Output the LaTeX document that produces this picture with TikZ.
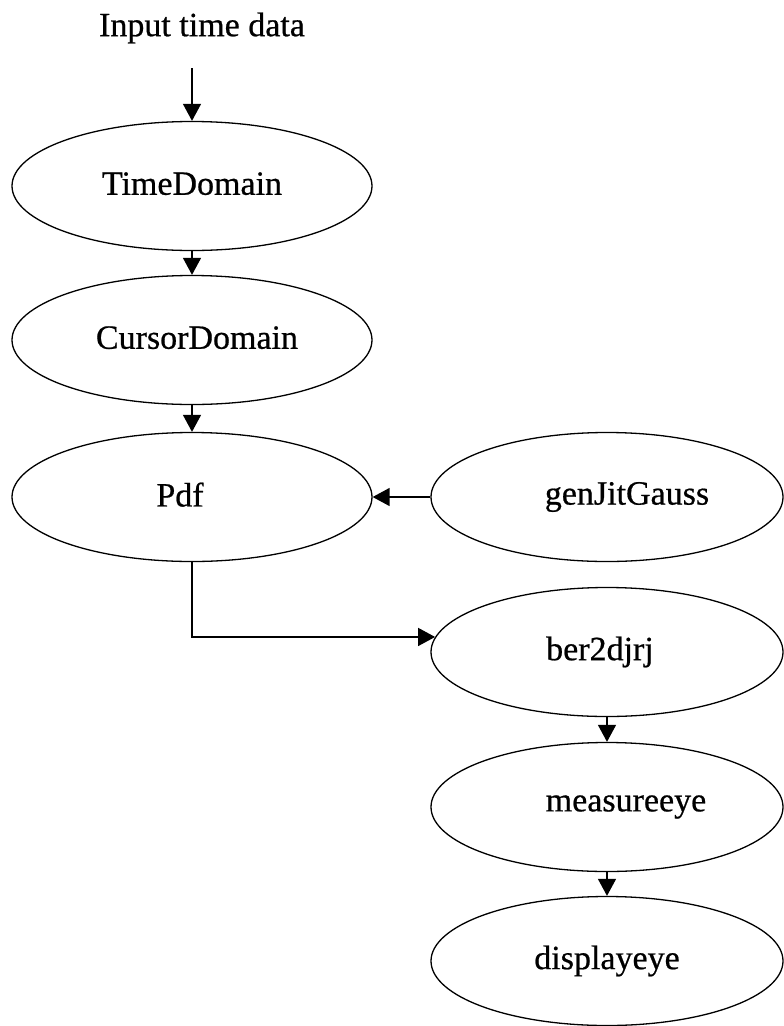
\documentclass[tikz,border=0pt]{standalone}
\usepackage{fontspec}
\setmainfont[FakeBold=0.6]{Liberation Serif}
\usetikzlibrary{shapes.geometric,arrows.meta}
\begin{document}
\begin{tikzpicture}[x=1pt,y=-1pt,
  lbl/.style={font=\fontsize{34}{40}\selectfont},
  box/.style={draw, ellipse, line width=1.3pt, minimum width=360pt, minimum height=129pt, inner sep=0pt, lbl},
  rbox/.style={box, minimum width=352pt},
  arr/.style={line width=1.4pt, -{Triangle[length=17pt,width=18pt]}}]
\useasboundingbox (0,0) rectangle (784,1026);
\node[lbl] (input) at (202,28) {Input time data};
\coordinate (instart) at (192,68);
\node[box] (td) at (192,186) {\raisebox{5pt}{TimeDomain}};
\node[box] (cd) at (192,340) {\raisebox{5pt}{CursorDomain}\hspace*{-10pt}};
\node[box] (pdf) at (192,497) {\raisebox{5pt}{Pdf}\hspace*{24pt}};
\node[rbox] (gj) at (607,497) {\hspace*{40pt}\raisebox{5pt}{genJitGauss}};
\node[rbox] (ber) at (607,652) {\raisebox{5pt}{ber2djrj}\hspace*{14pt}};
\node[rbox] (me) at (607,807) {\hspace*{38pt}\raisebox{5pt}{measureeye}};
\node[rbox] (de) at (607,961) {\raisebox{5pt}{displayeye}};
\draw[arr] (instart) -- (td.north);
\draw[arr] (td) -- (cd);
\draw[arr] (cd) -- (pdf);
\draw[arr] (gj) -- (pdf);
\draw[arr] (pdf.south) |- (ber.175);
\draw[arr] (ber) -- (me);
\draw[arr] (me) -- (de);
\end{tikzpicture}
\end{document}
